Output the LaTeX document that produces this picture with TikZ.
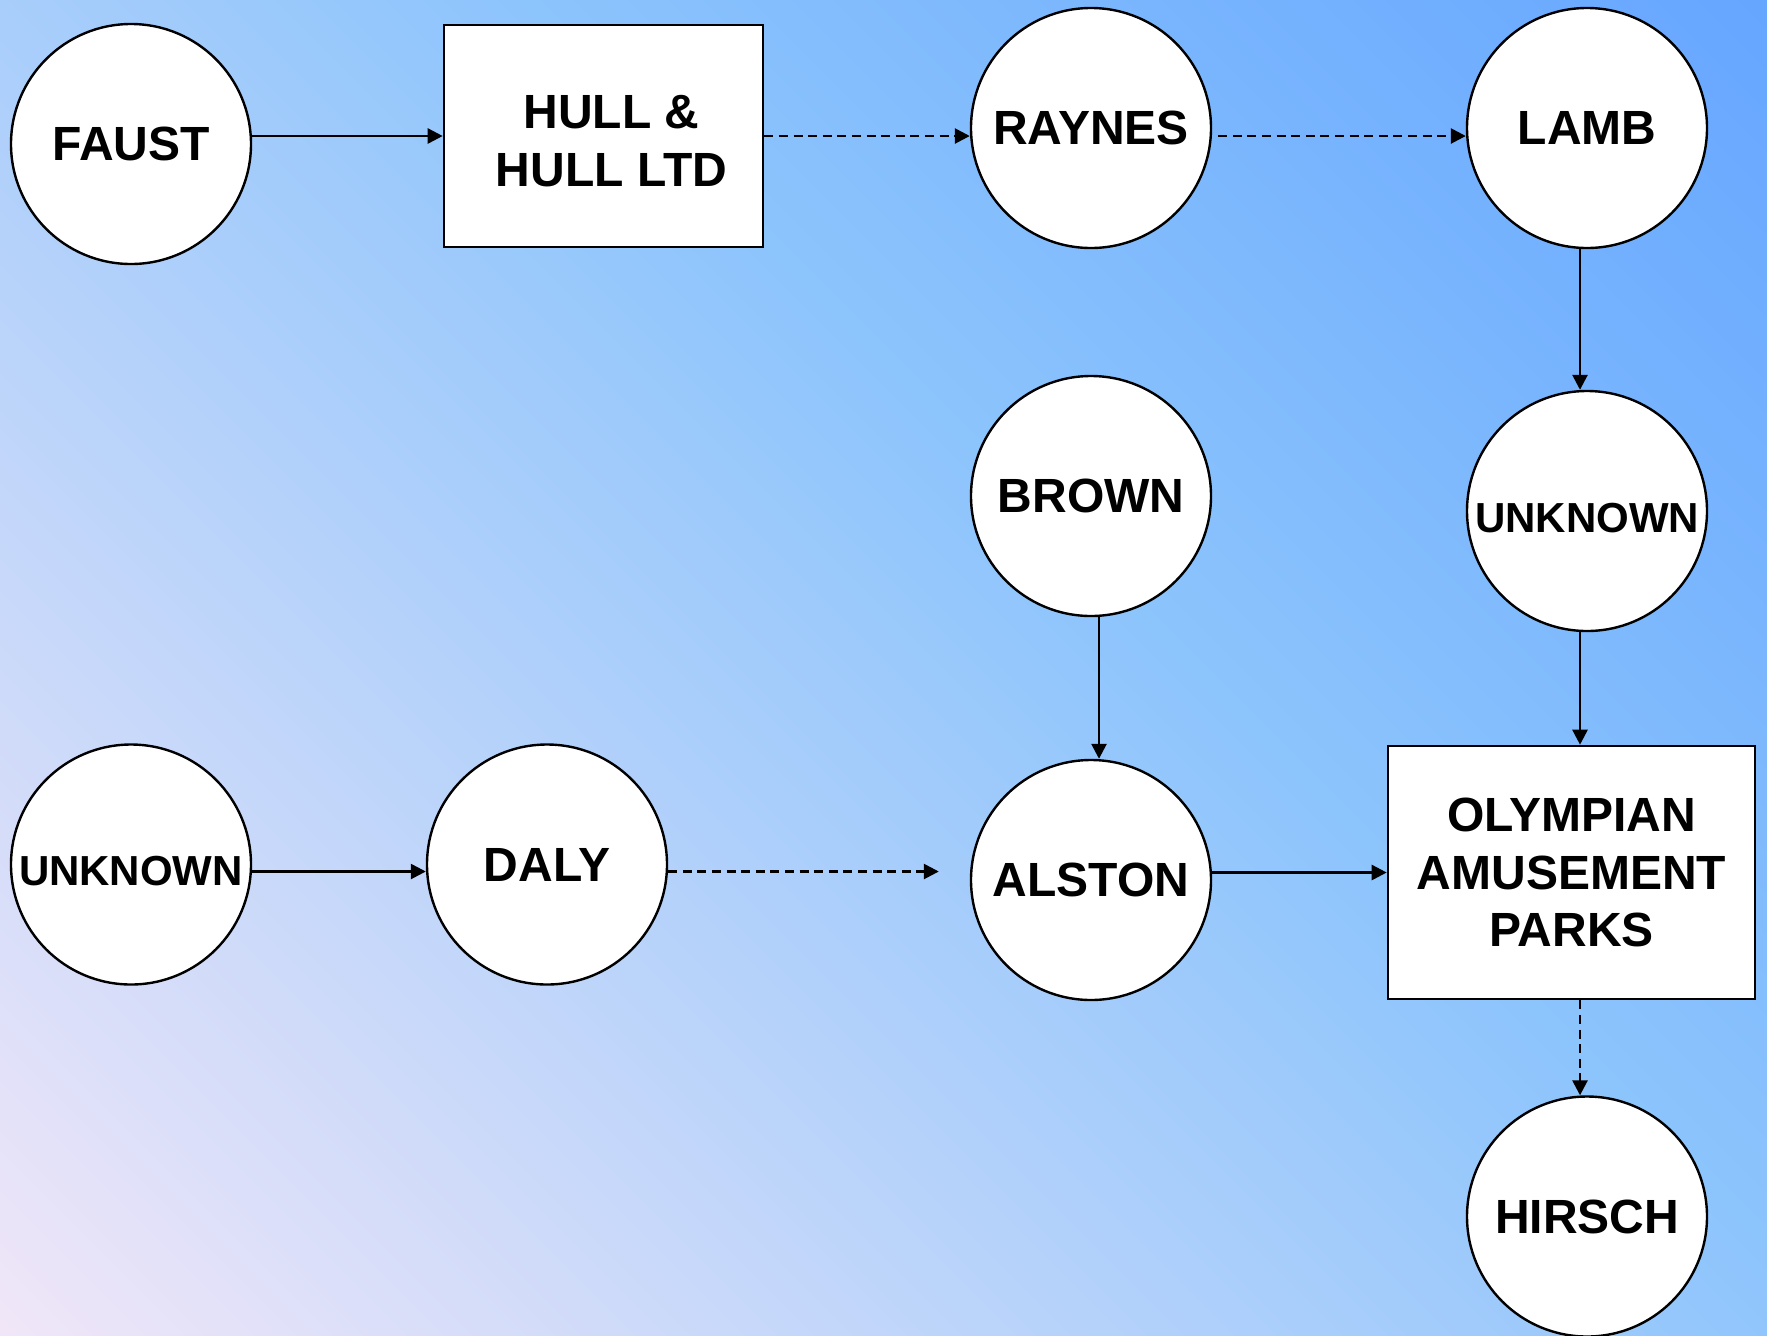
\documentclass[tikz,border=0pt]{standalone}
\usepackage{fontspec}
\setmainfont{Liberation Sans}
\usetikzlibrary{arrows.meta,calc}

% background colours, pale lilac at the lower left to deep sky blue at the upper right
\definecolor{bgpink}{RGB}{240,230,248}
\definecolor{bglight}{RGB}{140,196,252}
\definecolor{bgblue}{RGB}{102,166,255}
\pgfdeclarehorizontalshading{skyshade}{100bp}{%
  color(0bp)=(bgpink); color(14.64bp)=(bgpink);
  color(57.07bp)=(bglight);
  color(85.36bp)=(bgblue); color(100bp)=(bgblue)}

\begin{document}
\begin{tikzpicture}[x=0.5pt, y=-0.5pt,
  every node/.style={font=\fontsize{24}{28.7}\selectfont\bfseries, text=black},
  person/.style={circle, draw=black, line width=1.2pt, fill=white,
    minimum size=120pt, inner sep=0pt},
  firm/.style={rectangle, draw=black, line width=1.3pt, fill=white, inner sep=0pt},
  smalltext/.style={font=\fontsize{21}{25}\selectfont\bfseries,
    text height=21.4pt, text depth=0pt},
  link/.style={line width=1.3pt, -{Triangle[length=7.5pt,width=7.5pt]}},
  maybe/.style={link, dash pattern=on 4.5pt off 2.8pt},
]
% backdrop
\fill[shading=skyshade, shading angle=45] (0,0) rectangle (1767,1335);
\useasboundingbox (0,0) rectangle (1767,1335);

% owners and companies
\node[person] (faust) at (131,144) {FAUST};
\node[firm, minimum width=159.5pt, minimum height=111pt] (hull) at (603.5,136) {};
\node[align=center] (hulltext) at ([xshift=4pt,yshift=-2.5pt]hull.center) {HULL \&\\HULL LTD};
\node[person] (raynes) at (1091,128) {RAYNES};
\node[person] (lamb) at (1587,128) {LAMB};
\node[person] (brown) at (1091,496) {BROWN};
\node[person, smalltext] (unkright) at (1587,511) {UNKNOWN};
\node[person, smalltext] (unkleft) at (131,864.5) {UNKNOWN};
\node[person] (daly) at (547,864.5) {DALY};
\node[person] (alston) at (1091,880) {ALSTON};
\node[firm, minimum width=183.5pt, minimum height=126.5pt, align=center]
  (olympian) at (1571.5,872.5) {OLYMPIAN\\AMUSEMENT\\PARKS};
\node[person] (hirsch) at (1587,1216.5) {HIRSCH};

% transfers: solid = known, dashed = uncertain
\draw[link] (faust.east |- hull.west) -- (hull.west);
\draw[maybe] (hull.east) -- (raynes.west |- hull.east);
\draw[maybe] ([xshift=3pt]raynes.east |- hull.east) -- (lamb.west |- hull.east);
\draw[link] ([xshift=-3.5pt]lamb.south) -- ([xshift=-3.5pt]unkright.north);
\draw[link] ([xshift=-3.5pt]unkright.south) -- ([xshift=-3.5pt]unkright.south |- olympian.north);
\draw[link] ([xshift=4pt]brown.south) -- ([xshift=4pt]alston.north);
\draw[link] ([yshift=-3.5pt]unkleft.east) -- ([yshift=-3.5pt]daly.west);
\coordinate (dalyend) at ($(alston.west)+(-31,-8.5)$);
\draw[maybe] ([yshift=-3.5pt]daly.east) -- (dalyend);
\draw[link] (alston.east |- olympian.west) -- (olympian.west);
\draw[maybe] ([xshift=-3.5pt]hirsch.north |- olympian.south) -- ([xshift=-3.5pt]hirsch.north);
\end{tikzpicture}
\end{document}
